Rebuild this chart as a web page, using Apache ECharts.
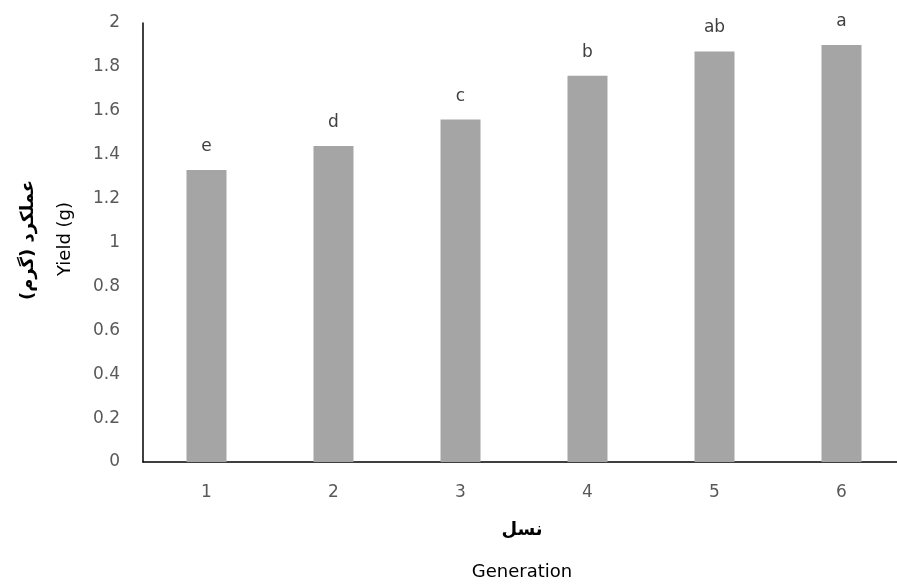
<!DOCTYPE html>
<html>
<head>
<meta charset="utf-8">
<script src="https://cdn.jsdelivr.net/npm/echarts@6/dist/echarts.min.js"></script>
<style>html,body{margin:0;padding:0;background:#fff}#c{width:897px;height:584px}</style>
</head>
<body>
<div id="c"></div>
<script>
const categories = ['1', '2', '3', '4', '5', '6'];
const yieldValues = [1.33, 1.44, 1.56, 1.76, 1.87, 1.90];
const letters = ['e', 'd', 'c', 'b', 'ab', 'a'];
const yTicks = { min: 0, max: 2, interval: 0.2 };

const chart = echarts.init(document.getElementById('c'), null, { renderer: 'canvas' });
const font = '"DejaVu Sans", sans-serif';
chart.setOption({
  animation: false,
  grid: { left: 143, top: 23, width: 762, height: 439, containLabel: false, outerBoundsMode: 'none' },
  xAxis: {
    type: 'category',
    data: categories,
    axisLine: { lineStyle: { color: '#000', width: 1.5 } },
    axisTick: { show: false },
    axisLabel: { color: '#595959', fontSize: 17, fontFamily: font, margin: 22 }
  },
  yAxis: {
    type: 'value',
    min: yTicks.min, max: yTicks.max, interval: yTicks.interval,
    axisLine: { show: true, lineStyle: { color: '#000', width: 1.5 } },
    axisTick: { show: false },
    splitLine: { show: false },
    axisLabel: {
      color: '#595959', fontSize: 17, fontFamily: font, margin: 23,
      formatter: v => String(Math.round(v * 10) / 10)
    }
  },
  series: [{
    type: 'bar',
    data: yieldValues,
    barWidth: 40,
    itemStyle: { color: '#a5a5a5' },
    label: {
      show: true, position: 'top', distance: 15,
      color: '#404040', fontSize: 17, fontFamily: font,
      formatter: p => letters[p.dataIndex]
    }
  }],
  graphic: [
    { type: 'text', x: 28, y: 240, rotation: Math.PI / 2,
      style: { text: 'عملکرد (گرم)', font: 'bold 18px "DejaVu Sans", sans-serif', fill: '#000', align: 'center', verticalAlign: 'middle' } },
    { type: 'text', x: 65, y: 239, rotation: Math.PI / 2,
      style: { text: 'Yield (g)', font: '18px ' + font, fill: '#000', align: 'center', verticalAlign: 'middle' } },
    { type: 'text', x: 522, y: 530,
      style: { text: 'نسل', font: 'bold 18px "DejaVu Sans", sans-serif', fill: '#000', align: 'center', verticalAlign: 'middle' } },
    { type: 'text', x: 522, y: 572,
      style: { text: 'Generation', font: '18px ' + font, fill: '#000', align: 'center', verticalAlign: 'middle' } }
  ]
});
</script>
</body>
</html>
